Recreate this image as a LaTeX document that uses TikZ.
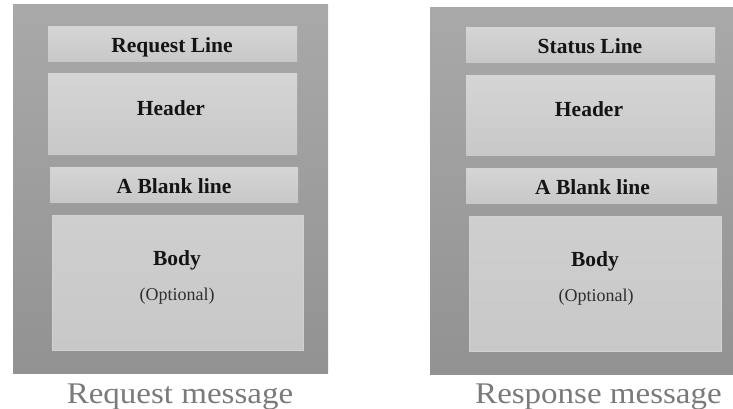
\documentclass[tikz,border=0pt]{standalone}
\usepackage{fontspec}
\setmainfont{Liberation Serif}
\newfontfamily\widefont[FakeStretch=1.1]{Liberation Serif}
\definecolor{outtop}{HTML}{A9A9A9}
\definecolor{outbot}{HTML}{929292}
\definecolor{intop}{HTML}{D5D5D5}
\definecolor{inbot}{HTML}{C8C8C8}
\definecolor{bodyline}{HTML}{D2D2D2}
\definecolor{capgray}{HTML}{7A7A7A}
\tikzset{
  outerbox/.style={rectangle, inner sep=0pt, top color=outtop, bottom color=outbot, draw=none},
  innerbox/.style={rectangle, inner sep=0pt, top color=intop, bottom color=inbot, draw=none},
  bodybox/.style={rectangle, inner sep=0pt, top color=intop!97!black, bottom color=inbot, draw=bodyline, line width=0.6pt},
  boldlabel/.style={anchor=base, inner sep=0pt, font=\fontsize{21.5}{24}\selectfont\bfseries, text=black!92},
  smalllabel/.style={anchor=base, inner sep=0pt, font=\fontsize{18}{20}\selectfont, text=black!82},
  caption/.style={anchor=base, inner sep=0pt, font=\fontsize{30}{34}\widefont, text=capgray}
}
\begin{document}
\begin{tikzpicture}[x=1pt,y=-1pt]
\useasboundingbox (0,0) rectangle (733,409);
% left message
\node[outerbox, minimum width=315pt, minimum height=368pt] (outL) at (170.5,189) {};
\node[innerbox, minimum width=249pt, minimum height=35pt] (reqL) at (172.5,44.5) {};
\node[innerbox, minimum width=249pt, minimum height=80pt] (hdrL) at (172.5,114) {};
\node[innerbox, minimum width=248pt, minimum height=35pt] (blkL) at (174,184.5) {};
\node[bodybox, minimum width=251pt, minimum height=135pt] (bodL) at (177.5,282.5) {};
\node[boldlabel] (treqL) at (172,52.7) {Request Line};
\node[boldlabel] (thdrL) at (171,116) {Header};
\node[boldlabel] (tblkL) at (174,193) {A Blank line};
\node[boldlabel] (tbodL) at (177,265) {Body};
\node[smalllabel] (toptL) at (177,300) {(Optional)};
\node[caption] (capL) at (180,403) {Request message};
% right message
\node[outerbox, minimum width=303pt, minimum height=366pt] (outR) at (581.5,191) {};
\node[innerbox, minimum width=249pt, minimum height=35pt] (staR) at (590.5,45.5) {};
\node[innerbox, minimum width=249pt, minimum height=79pt] (hdrR) at (590.5,115.5) {};
\node[innerbox, minimum width=251pt, minimum height=35pt] (blkR) at (591.5,185.5) {};
\node[bodybox, minimum width=252pt, minimum height=135pt] (bodR) at (595,283.5) {};
\node[boldlabel] (tstaR) at (590,53.3) {Status Line};
\node[boldlabel] (thdrR) at (589,116.5) {Header};
\node[boldlabel] (tblkR) at (592.5,194.5) {A Blank line};
\node[boldlabel] (tbodR) at (595,266) {Body};
\node[smalllabel] (toptR) at (596,301) {(Optional)};
\node[caption] (capR) at (598.5,403) {Response message};
\end{tikzpicture}
\end{document}
